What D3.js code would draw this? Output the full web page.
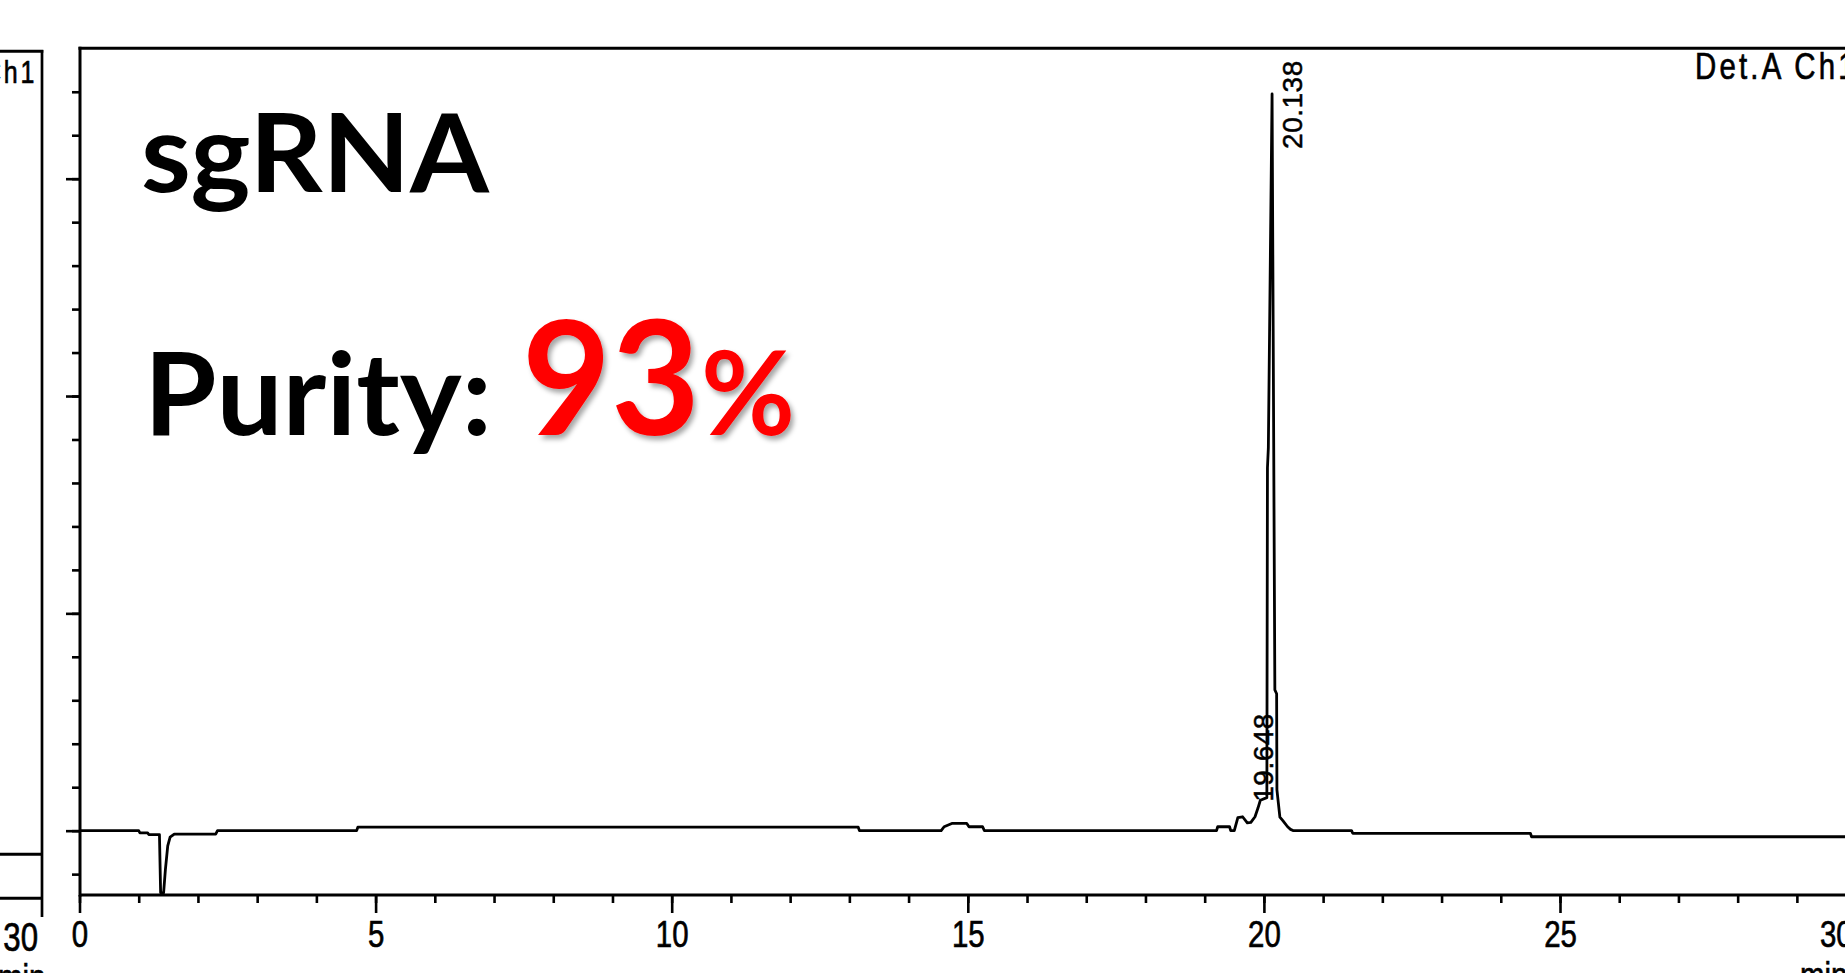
<!DOCTYPE html>
<html><head><meta charset="utf-8">
<script src="https://cdn.jsdelivr.net/npm/d3@7"></script>
<style>
html,body{margin:0;padding:0;background:#fff;overflow:hidden}
svg{display:block;background:#fff}
</style></head><body>
<script>
// ---------- data ----------
const timeMin = [0, 1.0, 1.02, 1.15, 1.17, 1.35, 1.37, 1.42, 1.45, 1.49, 1.53, 1.6, 2.3, 2.33, 4.68, 4.7,
  13.15, 13.17, 14.55, 14.6, 14.74, 14.98, 15.02, 15.25, 15.28, 19.2, 19.22, 19.42, 19.44, 19.5,
  19.56, 19.64, 19.72, 19.78, 19.85, 19.9, 19.94, 20.05, 20.06, 20.075, 20.138, 20.185, 20.215,
  20.22, 20.27, 20.32, 20.4, 20.45, 20.5, 21.48, 21.5, 24.5, 24.52, 30];
const signal = [0, 0, -0.5, -0.5, -0.9, -0.9, -14.3, -14.3, -9.0, -3.5, -1.5, -0.8, -0.8, 0, 0, 0.8,
  0.8, 0, 0, 0.9, 1.7, 1.7, 0.9, 0.9, 0, 0, 0.9, 0.9, 0, 0,
  3.0, 3.2, 1.8, 1.9, 3.2, 5.2, 7.0, 7.6, 83.5, 88, 169.5, 32.4, 31.5,
  9.4, 3.1, 2.3, 0.9, 0.3, 0, 0, -0.6, -0.6, -1.4, -1.4];
const xMajorTicks = [0, 5, 10, 15, 20, 25, 30];
const xTickLabels = ["0", "5", "10", "15", "20", "25", "30"];
const yMajorTicks = [0, 50, 100, 150];
const peakTimes = [19.648, 20.138];
const peakHeights = [3.2, 169.5];
const peakLabels = ["19.648", "20.138"];
const detectorLabel = "Det.A Ch1";
const unitLabel = "min";
const titleText = "sgRNA";
const purityLabel = "Purity:";
const purityValue = "93";
const purityUnit = "%";

// ---------- layout ----------
const W = 1845, H = 973;
const plotTop = 48.3, plotBottom = 895, plotLeft = 80;
const svg = d3.select("body").append("svg").attr("width", W).attr("height", H);

const x = d3.scaleLinear().domain([0, 30]).range([79.5, 79.5 + 30 * 59.22]);
const y = d3.scaleLinear().domain([-14.8, 180]).range([plotBottom, plotTop]);

const monoFont = "'Liberation Sans', Arial, sans-serif";
const sx = 0.78;

const defs = svg.append("defs");
const f = defs.append("filter").attr("id", "shadow").attr("x", "-10%").attr("y", "-10%").attr("width", "130%").attr("height", "130%");
f.append("feDropShadow").attr("dx", 3).attr("dy", 4).attr("stdDeviation", 2.5)
  .attr("flood-color", "#000").attr("flood-opacity", 0.35);

function heavy(sel, w) {
  return sel.attr("fill", "#000").attr("stroke", "#000").attr("stroke-width", w).attr("paint-order", "stroke");
}

// ---------- left remnant of previous panel ----------
const rem = svg.append("g");
rem.append("line").attr("x1", 0).attr("x2", 43.3).attr("y1", 51.3).attr("y2", 51.3).attr("stroke", "#000").attr("stroke-width", 3);
rem.append("line").attr("x1", 42).attr("x2", 42).attr("y1", 50).attr("y2", 917).attr("stroke", "#000").attr("stroke-width", 2.7);
rem.append("line").attr("x1", 0).attr("x2", 42).attr("y1", 854.3).attr("y2", 854.3).attr("stroke", "#000").attr("stroke-width", 3);
rem.append("line").attr("x1", 0).attr("x2", 42).attr("y1", 898.3).attr("y2", 898.3).attr("stroke", "#000").attr("stroke-width", 3);
heavy(rem.append("text").attr("transform", `translate(37,83) scale(${sx},1)`).attr("text-anchor", "end")
  .attr("font-family", monoFont).attr("font-size", 32).attr("letter-spacing", 3.5).text(detectorLabel), 0.7);
heavy(rem.append("text").attr("transform", `translate(38,950.5) scale(${sx},1)`).attr("text-anchor", "end")
  .attr("font-family", monoFont).attr("font-size", 40).text("30"), 0.7);
heavy(rem.append("text").attr("transform", `translate(-2,990) scale(${sx},1)`)
  .attr("font-family", monoFont).attr("font-size", 37.7).text(unitLabel), 0.7);

// ---------- axes ----------
const xMinor = d3.axisBottom(x).tickValues(d3.range(0, 31, 1)).tickSize(8).tickSizeOuter(0).tickFormat("");
const gxm = svg.append("g").attr("transform", `translate(0,${plotBottom})`).call(xMinor);
gxm.select(".domain").remove();
const xMajor = d3.axisBottom(x).tickValues(xMajorTicks).tickSize(18).tickSizeOuter(0)
  .tickFormat((d, i) => xTickLabels[i]);
const gx = svg.append("g").attr("transform", `translate(0,${plotBottom})`).call(xMajor);
gx.select(".domain").remove();
svg.selectAll(".tick line").attr("stroke", "#000").attr("stroke-width", 2.6);
heavy(gx.selectAll("text").attr("y", 52).attr("dy", 0)
  .attr("font-family", monoFont).attr("font-size", 37.7)
  .attr("transform", `scale(${sx},1)`), 0.7);
gx.selectAll("text").filter(d => d === 30).attr("text-anchor", "end")
  .attr("transform", `translate(-4,0) scale(${sx},1)`);

const yMinor = d3.axisLeft(y).tickValues(d3.range(-10, 171, 10)).tickSize(8).tickSizeOuter(0).tickFormat("");
const gym = svg.append("g").attr("transform", `translate(${plotLeft},0)`).call(yMinor);
gym.select(".domain").remove();
const yMajor = d3.axisLeft(y).tickValues(yMajorTicks).tickSize(14).tickSizeOuter(0).tickFormat("");
const gy = svg.append("g").attr("transform", `translate(${plotLeft},0)`).call(yMajor);
gy.select(".domain").remove();
svg.selectAll(".tick line").attr("stroke", "#000").attr("stroke-width", 2.6);

// frame lines
svg.append("line").attr("x1", plotLeft - 1.5).attr("x2", W).attr("y1", plotTop).attr("y2", plotTop)
  .attr("stroke", "#000").attr("stroke-width", 3);
svg.append("line").attr("x1", plotLeft).attr("x2", plotLeft).attr("y1", plotTop - 1.5).attr("y2", plotBottom + 1.5)
  .attr("stroke", "#000").attr("stroke-width", 3);
svg.append("line").attr("x1", plotLeft).attr("x2", W).attr("y1", plotBottom).attr("y2", plotBottom)
  .attr("stroke", "#000").attr("stroke-width", 3);

// ---------- trace ----------
const pts = timeMin.map((t, i) => [t, signal[i]]);
const line = d3.line().x(d => x(d[0])).y(d => y(d[1]));
svg.append("path").datum(pts).attr("d", line).attr("fill", "none")
  .attr("stroke", "#000").attr("stroke-width", 2.8).attr("stroke-linejoin", "round");

// ---------- peak labels ----------
peakTimes.forEach((t, i) => {
  const tx = heavy(svg.append("text").attr("font-family", monoFont).attr("font-size", 28)
    .attr("letter-spacing", 0.5).text(peakLabels[i]), 0.5);
  const len = tx.node().getComputedTextLength();
  const yb = Math.max(y(peakHeights[i]) - 15, plotTop + 12 + len);
  tx.attr("transform", `translate(${x(t) + 30},${yb}) rotate(-90)`);
});

// detector label
heavy(svg.append("text").attr("transform", `translate(1695,79) scale(${sx},1)`)
  .attr("font-family", monoFont).attr("font-size", 37.7).attr("letter-spacing", 4.1)
  .text(detectorLabel), 0.7);
// unit label at right end
heavy(svg.append("text").attr("transform", `translate(1800,988) scale(${sx},1)`)
  .attr("font-family", monoFont).attr("font-size", 37.7).text(unitLabel), 0.7);

// ---------- annotations ----------
const bold = "Lato, 'Open Sans', sans-serif";
svg.append("text").attr("x", 141).attr("y", 191.7).attr("font-family", bold).attr("font-weight", 700)
  .attr("font-size", 110).attr("textLength", 348).attr("lengthAdjust", "spacingAndGlyphs")
  .attr("fill", "#000").text(titleText);
svg.append("text").attr("x", 144).attr("y", 435).attr("font-family", bold).attr("font-weight", 700)
  .attr("font-size", 114).attr("textLength", 348).attr("lengthAdjust", "spacingAndGlyphs")
  .attr("fill", "#000").text(purityLabel);
svg.append("text").attr("x", 522).attr("y", 435).attr("font-family", bold).attr("font-weight", 700)
  .attr("font-size", 160).attr("textLength", 178).attr("lengthAdjust", "spacingAndGlyphs")
  .attr("fill", "#ff0000").attr("filter", "url(#shadow)").text(purityValue);
svg.append("text").attr("x", 701).attr("y", 435).attr("font-family", bold).attr("font-weight", 700)
  .attr("font-size", 116).attr("textLength", 94).attr("lengthAdjust", "spacingAndGlyphs")
  .attr("fill", "#ff0000").attr("filter", "url(#shadow)").text(purityUnit);
</script>
</body></html>
